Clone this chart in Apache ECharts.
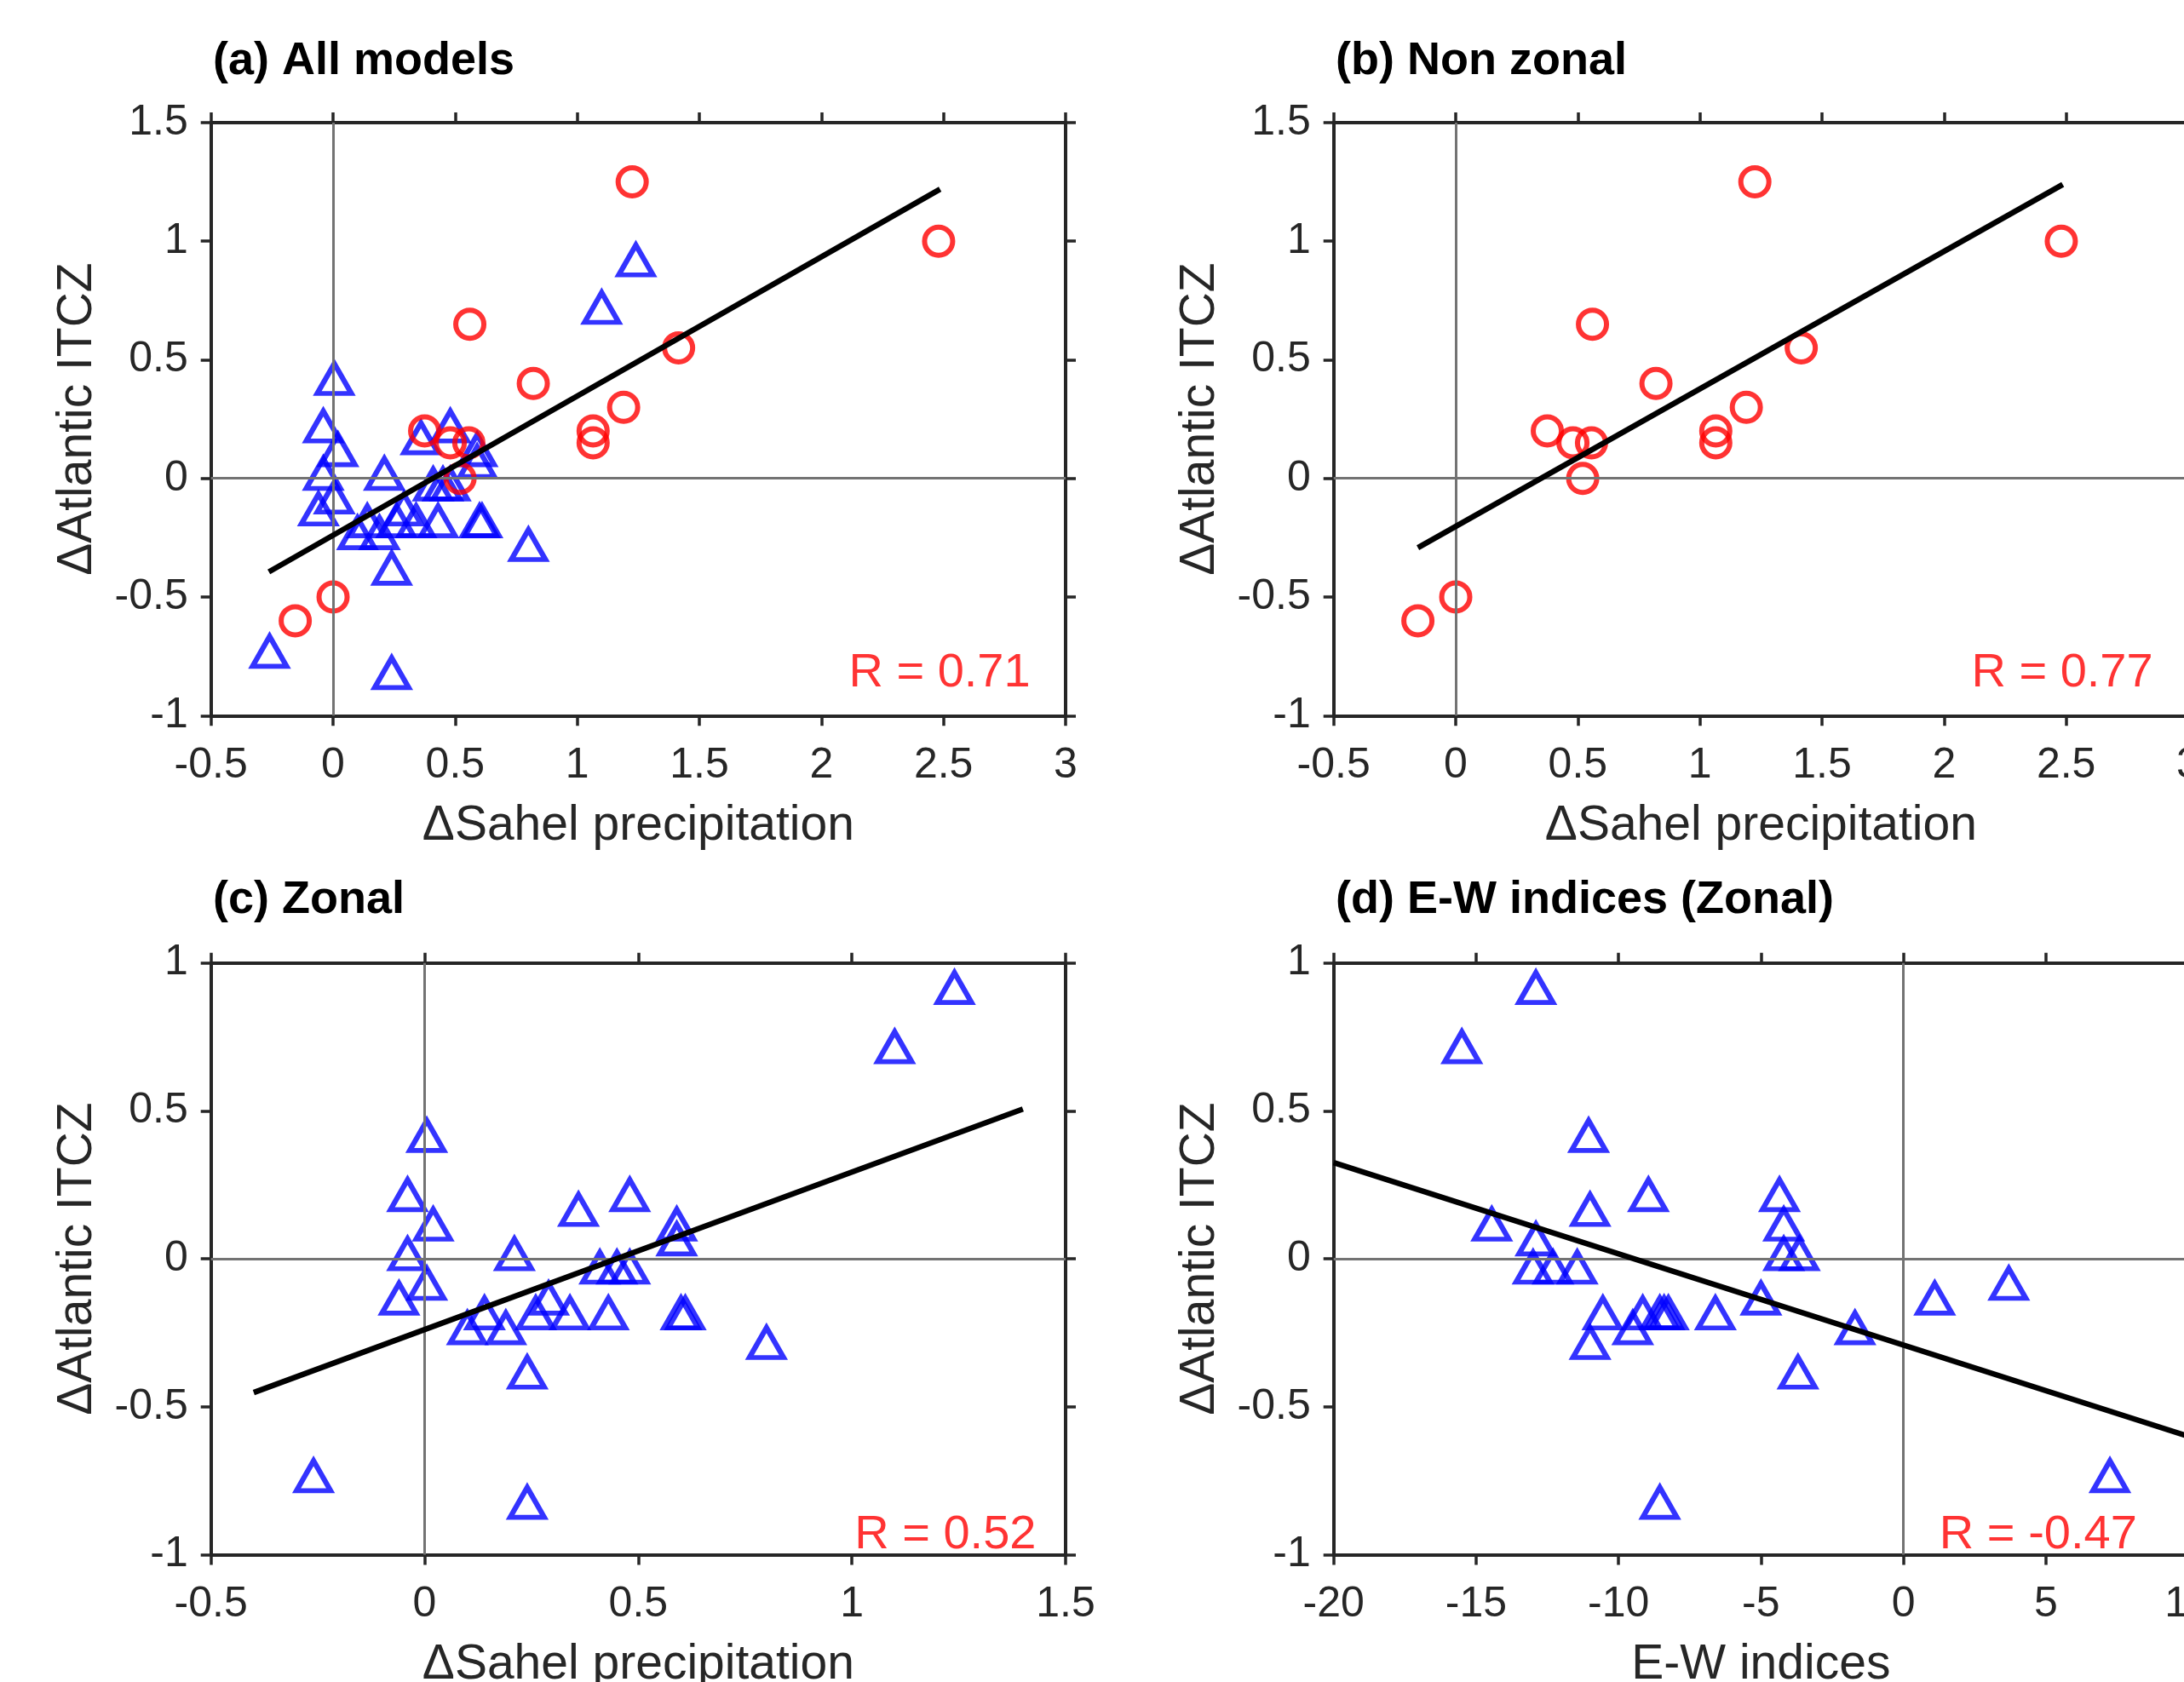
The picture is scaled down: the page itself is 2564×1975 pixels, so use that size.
<!DOCTYPE html>
<html><head><meta charset="utf-8">
<script src="https://cdn.jsdelivr.net/npm/echarts@6/dist/echarts.min.js"></script>
<style>html,body{margin:0;padding:0;background:#fff;overflow:hidden}#c{width:2564px;height:1975px}</style>
</head><body><div id="c"></div>
<script>
// ---------- data ----------
const panelTitles = ['(a) All models', '(b) Non zonal', '(c) Zonal', '(d) E-W indices (Zonal)'];
const xAxisNames = ['\u0394Sahel precipitation', '\u0394Sahel precipitation', '\u0394Sahel precipitation', 'E-W indices'];
const yAxisName = '\u0394Atlantic ITCZ';
const rLabels = ['R = 0.71', 'R = 0.77', 'R = 0.52', 'R = -0.47'];

// axis ranges [min, max, interval]
const xRangeSahelAB = [-0.5, 3, 0.5];
const yRangeAB = [-1, 1.5, 0.5];
const xRangeSahelC = [-0.5, 1.5, 0.5];
const xRangeEW = [-20, 10, 5];
const yRangeCD = [-1, 1, 0.5];

// non-zonal models (circles)
const nonZonalSahel = [1.225, 2.48, 0.56, 1.415, 0.82, 1.19, 1.065, 1.065, 0.375, 0.48, 0.556, 0.52, 0.0, -0.155];
const nonZonalITCZ  = [1.25, 1.0, 0.65, 0.55, 0.40, 0.30, 0.20, 0.15, 0.20, 0.15, 0.15, 0.0, -0.5, -0.6];

// zonal models (triangles)
const zonalSahel = [1.24, 1.10, 0.005, -0.04, 0.48, 0.36, 0.02, 0.59, 0.59, -0.04, 0.21,
                    0.41, 0.45, 0.48, 0.005, -0.06, 0.29, 0.14, 0.26, 0.34, 0.43, 0.60, 0.61,
                    0.10, 0.19, 0.80, 0.24, -0.26, 0.24];
const zonalITCZ  = [0.9, 0.7, 0.4, 0.2, 0.2, 0.15, 0.1, 0.1, 0.05, 0.0, 0.0,
                    -0.045, -0.045, -0.045, -0.1, -0.15, -0.15, -0.2, -0.2, -0.2, -0.2, -0.2, -0.2,
                    -0.25, -0.25, -0.3, -0.4, -0.75, -0.84];
const zonalEW    = [-12.9, -15.5, -11.05, -8.95, -4.35, -11.0, -14.45, -4.2, -12.9, -4.2, -3.65,
                    -13.0, -12.3, -11.45, 3.7, -5.0, 1.1, -10.55, -9.15, -8.55, -8.4, -8.25, -6.6,
                    -9.5, -1.7, -11.0, -3.7, 7.25, -8.55];

// regression lines (end points)
const fitAllX = [-0.263, 2.486], fitAllY = [-0.394, 1.219];
const fitNonZonalX = [-0.155, 2.486], fitNonZonalY = [-0.292, 1.239];
const fitZonalX = [-0.4, 1.4], fitZonalY = [-0.452, 0.506];
const fitEWX = [-20, 10], fitEWY = [0.325, -0.60];

// ---------- style ----------
const FONT = "'Liberation Sans', Arial, Helvetica, sans-serif";
const AX = '#262626';
const grids = [
  {left: 247.7, top: 143.9, width: 1003.3, height: 696.4, outerBoundsMode: 'none', containLabel: false},
  {left: 1565.7, top: 143.9, width: 1003.3, height: 696.4, outerBoundsMode: 'none', containLabel: false},
  {left: 247.7, top: 1130.7, width: 1003.3, height: 694.8, outerBoundsMode: 'none', containLabel: false},
  {left: 1565.7, top: 1130.7, width: 1003.3, height: 694.8, outerBoundsMode: 'none', containLabel: false}
];
const titlePos = [[250, 45], [1568, 45], [250, 1030], [1568, 1030]];
const rPos = [[2.11, -0.82], [2.11, -0.82], [1.005, -0.935], [1.25, -0.935]];

const zip = (a, b) => a.map((v, i) => [v, b[i]]);

const xAxes = [], yAxes = [];
function addAxes(g, xr, yr, xname) {
  const common = {
    gridIndex: g, type: 'value', splitLine: {show: false},
    axisLine: {show: true, onZero: false, lineStyle: {color: AX, width: 4}},
    axisTick: {show: true, inside: false, length: 12, lineStyle: {color: AX, width: 3.5}}
  };
  xAxes.push(Object.assign({}, common, {
    position: 'bottom', min: xr[0], max: xr[1], interval: xr[2],
    axisLabel: {show: true, margin: 34, fontSize: 50, color: AX, fontFamily: FONT, showMinLabel: true, showMaxLabel: true, hideOverlap: false},
    name: xname, nameLocation: 'middle', nameGap: 101,
    nameTextStyle: {fontSize: 57, color: AX, fontFamily: FONT}
  }));
  xAxes.push(Object.assign({}, common, {
    position: 'top', min: xr[0], max: xr[1], interval: xr[2], axisLabel: {show: false}
  }));
  yAxes.push(Object.assign({}, common, {
    position: 'left', min: yr[0], max: yr[1], interval: yr[2],
    axisLabel: {show: true, margin: 27, fontSize: 50, color: AX, fontFamily: FONT, showMinLabel: true, showMaxLabel: true, hideOverlap: false},
    name: yAxisName, nameLocation: 'middle', nameGap: 128,
    nameTextStyle: {fontSize: 57, color: AX, fontFamily: FONT}
  }));
  yAxes.push(Object.assign({}, common, {
    position: 'right', min: yr[0], max: yr[1], interval: yr[2], axisLabel: {show: false}
  }));
}
addAxes(0, xRangeSahelAB, yRangeAB, xAxisNames[0]);
addAxes(1, xRangeSahelAB, yRangeAB, xAxisNames[1]);
addAxes(2, xRangeSahelC, yRangeCD, xAxisNames[2]);
addAxes(3, xRangeEW, yRangeCD, xAxisNames[3]);

const series = [];
function zeroLines(g) {
  series.push({
    type: 'line', xAxisIndex: 2 * g, yAxisIndex: 2 * g, data: [], z: 1, silent: true,
    markLine: {
      silent: true, symbol: ['none', 'none'], label: {show: false},
      lineStyle: {color: '#737373', width: 3, type: 'solid'},
      emphasis: {disabled: true},
      data: [{xAxis: 0}, {yAxis: 0}]
    }
  });
}
function triangles(g, xs, ys) {
  series.push({
    type: 'scatter', xAxisIndex: 2 * g, yAxisIndex: 2 * g, z: 3, silent: true,
    symbol: 'triangle', symbolSize: [40, 35], symbolOffset: [0, -5.8],
    itemStyle: {color: 'rgba(0,0,0,0)', borderColor: '#0000ff', borderWidth: 6, borderJoin: 'miter', borderMiterLimit: 10},
    data: zip(xs, ys)
  });
}
function circles(g, xs, ys) {
  series.push({
    type: 'scatter', xAxisIndex: 2 * g, yAxisIndex: 2 * g, z: 4, silent: true,
    symbol: 'circle', symbolSize: 33,
    itemStyle: {color: 'rgba(0,0,0,0)', borderColor: '#ff0000', borderWidth: 6},
    data: zip(xs, ys)
  });
}
function fit(g, xs, ys) {
  series.push({
    type: 'line', xAxisIndex: 2 * g, yAxisIndex: 2 * g, z: 5, silent: true,
    showSymbol: false, symbol: 'none', lineStyle: {color: '#000', width: 6.5},
    data: zip(xs, ys)
  });
}
function rText(g) {
  series.push({
    type: 'scatter', xAxisIndex: 2 * g, yAxisIndex: 2 * g, z: 6, silent: true,
    symbolSize: 1, itemStyle: {color: 'rgba(0,0,0,0)'},
    label: {show: true, position: 'right', distance: 0, formatter: rLabels[g],
            color: '#ff0000', fontSize: 56, fontFamily: FONT},
    data: [rPos[g]]
  });
}

zeroLines(0); triangles(0, zonalSahel, zonalITCZ); circles(0, nonZonalSahel, nonZonalITCZ); fit(0, fitAllX, fitAllY); rText(0);
zeroLines(1); circles(1, nonZonalSahel, nonZonalITCZ); fit(1, fitNonZonalX, fitNonZonalY); rText(1);
zeroLines(2); triangles(2, zonalSahel, zonalITCZ); fit(2, fitZonalX, fitZonalY); rText(2);
zeroLines(3); triangles(3, zonalEW, zonalITCZ); fit(3, fitEWX, fitEWY); rText(3);

const chart = echarts.init(document.getElementById('c'), null, {renderer: 'canvas'});
chart.setOption({
  animation: false,
  backgroundColor: '#ffffff',
  title: panelTitles.map((t, i) => ({
    text: t, left: titlePos[i][0], top: titlePos[i][1], padding: 0,
    textStyle: {fontSize: 54, fontWeight: 'bold', color: '#000', fontFamily: FONT}
  })),
  grid: grids,
  xAxis: xAxes,
  yAxis: yAxes,
  series: series
});
</script></body></html>
